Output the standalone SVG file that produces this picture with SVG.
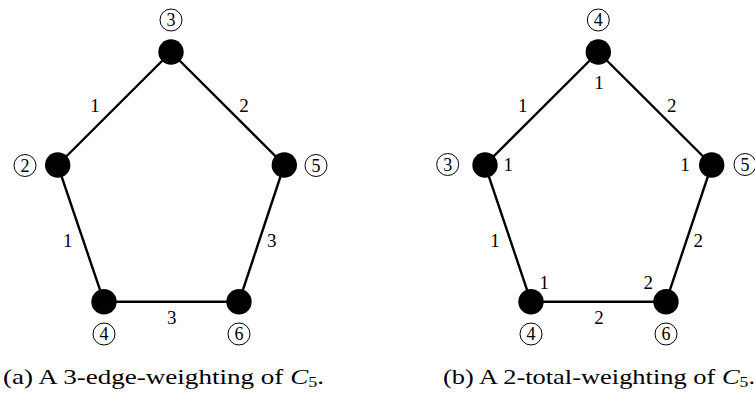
<svg xmlns="http://www.w3.org/2000/svg" width="755" height="394" viewBox="0 0 755 394">
<style>
.e{stroke:#000;stroke-width:2.4;fill:none}
.n{fill:#000}
.c{fill:none;stroke:#000;stroke-width:1}
text{font-family:"Liberation Serif","DejaVu Serif",serif;fill:#000;text-anchor:middle}
.w{font-size:19px}
.d{font-size:18px}
.cap{font-size:21px;text-anchor:start}
</style>
<rect width="755" height="394" fill="#fff"/>
<g id="connectors">
<polyline class="e" points="171,52 57.7,165 104,301.7 239,301.7 284.3,165 171,52"/>
<polyline class="e" points="598.3,52 485,165 531,301.7 666,301.7 711.7,165 598.3,52"/>
<text class="w" x="95" y="111.5">1</text>
<text class="w" x="244" y="111.5">2</text>
<text class="w" x="67.7" y="246.5">1</text>
<text class="w" x="271.7" y="246.5">3</text>
<text class="w" x="171.7" y="323.5">3</text>
<text class="w" x="522.7" y="111.5">1</text>
<text class="w" x="671.7" y="111.5">2</text>
<text class="w" x="495" y="246.5">1</text>
<text class="w" x="698.3" y="246.5">2</text>
<text class="w" x="599" y="323.5">2</text>
</g>
<g id="a-v3"><circle class="n" cx="171" cy="52" r="12.7"/><circle class="c" cx="171" cy="20" r="11"/><text class="d" x="171" y="26.3">3</text></g>
<g id="a-v2"><circle class="n" cx="57.7" cy="165" r="12.7"/><circle class="c" cx="25" cy="165.5" r="11"/><text class="d" x="25" y="171.8">2</text></g>
<g id="a-v5"><circle class="n" cx="284.3" cy="165" r="12.7"/><circle class="c" cx="316" cy="165.5" r="11"/><text class="d" x="316" y="171.8">5</text></g>
<g id="a-v4"><circle class="n" cx="104" cy="301.7" r="12.7"/><circle class="c" cx="104" cy="334" r="11"/><text class="d" x="104" y="340.3">4</text></g>
<g id="a-v6"><circle class="n" cx="239" cy="301.7" r="12.7"/><circle class="c" cx="239" cy="334" r="11"/><text class="d" x="239" y="340.3">6</text></g>
<g id="b-v4t"><circle class="n" cx="598.3" cy="52" r="12.7"/><circle class="c" cx="598.3" cy="20" r="11"/><text class="d" x="598.3" y="26.3">4</text><text class="w" x="599" y="88.5">1</text></g>
<g id="b-v3"><circle class="n" cx="485" cy="165" r="12.7"/><circle class="c" cx="447.7" cy="164.5" r="11"/><text class="d" x="447.7" y="170.8">3</text><text class="w" x="508.3" y="171">1</text></g>
<g id="b-v5"><circle class="n" cx="711.7" cy="165" r="12.7"/><circle class="c" cx="745" cy="164.5" r="11"/><text class="d" x="745" y="170.8">5</text><text class="w" x="685" y="171">1</text></g>
<g id="b-v4b"><circle class="n" cx="531" cy="301.7" r="12.7"/><circle class="c" cx="531" cy="334" r="11"/><text class="d" x="531" y="340.3">4</text><text class="w" x="544.3" y="288.5">1</text></g>
<g id="b-v6"><circle class="n" cx="666" cy="301.7" r="12.7"/><circle class="c" cx="666" cy="334" r="11"/><text class="d" x="666" y="340.3">6</text><text class="w" x="648.3" y="288.5">2</text></g>
<text class="cap" x="3" y="384" textLength="321" lengthAdjust="spacingAndGlyphs">(a)  A 3-edge-weighting of <tspan font-style="italic">C</tspan><tspan font-size="14" dy="3">5</tspan><tspan dy="-3">.</tspan></text>
<text class="cap" x="443" y="384" textLength="312" lengthAdjust="spacingAndGlyphs">(b)  A 2-total-weighting of <tspan font-style="italic">C</tspan><tspan font-size="14" dy="3">5</tspan><tspan dy="-3">.</tspan></text>
</svg>
